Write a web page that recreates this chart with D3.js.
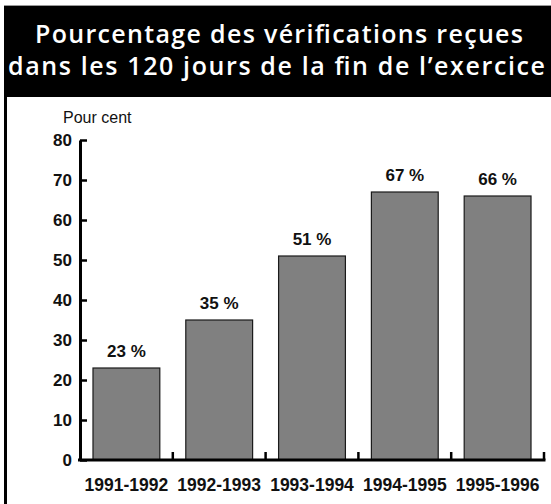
<!DOCTYPE html>
<html><head><meta charset="utf-8">
<script src="https://cdn.jsdelivr.net/npm/d3@7"></script>
<style>
html,body{margin:0;padding:0;background:#fff;}
svg{display:block;}
</style></head>
<body>
<script>
const titleLines = ["Pourcentage des vérifications reçues", "dans les 120 jours de la fin de l’exercice"];
const yAxisTitle = "Pour cent";
const categories = ["1991-1992","1992-1993","1993-1994","1994-1995","1995-1996"];
const values = [23, 35, 51, 67, 66];
const valueLabels = ["23 %","35 %","51 %","67 %","66 %"];
const yTicks = [0,10,20,30,40,50,60,70,80];

const W = 551, H = 504;
const svg = d3.select("body").append("svg").attr("width", W).attr("height", H);
svg.append("rect").attr("width", W).attr("height", H).attr("fill", "#fff");

// frame / header
svg.append("line").attr("x1",4).attr("x2",W).attr("y1",5.5).attr("y2",5.5).attr("stroke","#999").attr("stroke-width",1);
svg.append("rect").attr("x",4).attr("y",6).attr("width",W-4).attr("height",91).attr("fill","#000");
svg.append("rect").attr("x",4).attr("y",6).attr("width",3).attr("height",H-6).attr("fill","#000");

const tl = [{t:titleLines[0], x:279, y:43, w:488},{t:titleLines[1], x:276.5, y:75, w:537}];
svg.selectAll("text.title").data(tl).join("text").attr("class","title")
  .attr("x", d=>d.x).attr("y", d=>d.y).attr("text-anchor","middle")
  .attr("fill","#fff").attr("font-family","'Open Sans', sans-serif").attr("font-weight",600)
  .attr("font-size",25).attr("textLength", d=>d.w).attr("lengthAdjust","spacing")
  .text(d=>d.t);

const font = "'Liberation Sans', Arial, sans-serif";

const y = d3.scaleLinear().domain([0,80]).range([460,140]);
const x = d3.scaleBand().domain(categories).range([80,544]).paddingInner(0.28).paddingOuter(0.14);

// bars
svg.selectAll("rect.bar").data(values).join("rect").attr("class","bar")
  .attr("x",(d,i)=>x(categories[i])).attr("y",d=>y(d))
  .attr("width",x.bandwidth()).attr("height",d=>y(0)-y(d))
  .attr("fill","#808080").attr("stroke","#1a1a1a").attr("stroke-width",1.2);

// value labels
svg.selectAll("text.val").data(values).join("text").attr("class","val")
  .attr("x",(d,i)=>x(categories[i])+x.bandwidth()/2).attr("y",d=>y(d)-11)
  .attr("text-anchor","middle").attr("font-family",font).attr("font-weight","bold")
  .attr("font-size",17).attr("fill","#111").text((d,i)=>valueLabels[i]);

// y axis
const yAxis = d3.axisLeft(y).tickValues(yTicks).tickSize(-7).tickSizeOuter(0).tickPadding(8);
const gy = svg.append("g").attr("transform","translate(80,0)").call(yAxis);
gy.select(".domain").attr("stroke","#000").attr("stroke-width",3);
gy.selectAll(".tick line").attr("stroke","#000").attr("stroke-width",2.5);
gy.selectAll(".tick text").attr("font-family",font).attr("font-weight","bold").attr("font-size",17).attr("fill","#111");

// x axis
const xAxis = d3.axisBottom(x).tickSize(0).tickPadding(19);
const gx = svg.append("g").attr("transform","translate(0,460)").call(xAxis);
gx.select(".domain").attr("d", `M${x.range()[0]-2},0H${x.range()[1]+1.5}`).attr("stroke","#000").attr("stroke-width",3);
gx.selectAll(".tick text").attr("font-family",font).attr("font-weight","bold").attr("font-size",17.5).attr("fill","#111");
const bounds = d3.range(1, categories.length+1).map(i => x.range()[0] + i*x.step());
gx.selectAll("line.bt").data(bounds).join("line").attr("class","bt")
  .attr("x1",d=>d).attr("x2",d=>d).attr("y1",0).attr("y2",-8)
  .attr("stroke","#000").attr("stroke-width",2.5);

// y title
svg.append("text").attr("x",63).attr("y",123).attr("font-family",font).attr("font-size",16)
  .attr("fill","#111").text(yAxisTitle);
</script>
</body></html>
